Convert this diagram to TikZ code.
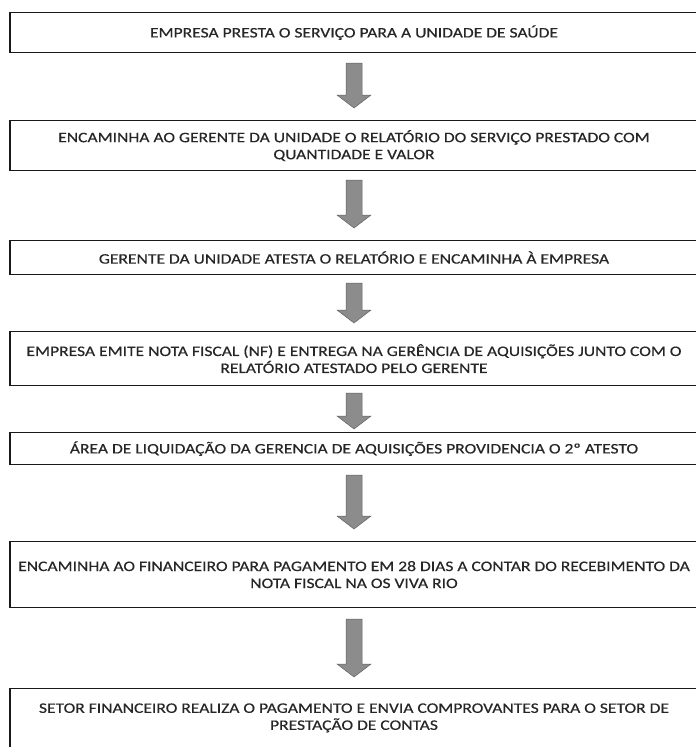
\documentclass[tikz,border=0pt]{standalone}
\usepackage{fontspec}
\setmainfont{Carlito}[FakeStretch=1.21,FakeBold=0.5]
\usetikzlibrary{calc}
\newcommand\boxfont{\fontsize{14.5pt}{17pt}\selectfont}
\newcommand\flowarrow[4]{%
  \fill[arrowstyle] let \p1=($(#1.south)+(0,#3)$), \p2=($(#2.north)+(0,-#4)$) in
    (\x1-8pt,\y1) -- (\x1+8pt,\y1) -- (\x1+8pt,\y2+13pt) -- (\x1+17pt,\y2+13pt)
    -- (\x1,\y2) -- (\x1-17pt,\y2+13pt) -- (\x1-8pt,\y2+13pt) -- cycle;}
\begin{document}
\begin{tikzpicture}[x=1pt,y=-1pt,
  stepbox/.style={draw=black!90, line width=1.2pt, minimum width=688pt,
    inner xsep=0pt, inner ysep=0pt, align=center, font=\boxfont,
    text=black!85, anchor=north},
  arrowstyle/.style={fill=black!45, draw=black!62, line width=0.5pt}]
\useasboundingbox (0,0) rectangle (696,747);
\node[stepbox, minimum height=40pt] (b1) at (354,12)
  {EMPRESA PRESTA O SERVIÇO PARA A UNIDADE DE SAÚDE};
\node[stepbox, minimum height=50pt] (b2) at (354,120)
  {ENCAMINHA AO GERENTE DA UNIDADE O RELATÓRIO DO SERVIÇO PRESTADO COM\\QUANTIDADE E VALOR};
\node[stepbox, minimum height=34pt] (b3) at (354,240)
  {GERENTE DA UNIDADE ATESTA O RELATÓRIO E ENCAMINHA À EMPRESA};
\node[stepbox, minimum height=54pt] (b4) at (354,331)
  {EMPRESA EMITE NOTA FISCAL (NF) E ENTREGA NA GERÊNCIA DE AQUISIÇÕES JUNTO COM O\\RELATÓRIO ATESTADO PELO GERENTE};
\node[stepbox, minimum height=32pt] (b5) at (354,432)
  {ÁREA DE LIQUIDAÇÃO DA GERENCIA DE AQUISIÇÕES PROVIDENCIA O 2º ATESTO};
\node[stepbox, minimum height=66pt] (b6) at (354,541)
  {ENCAMINHA AO FINANCEIRO PARA PAGAMENTO EM 28 DIAS A CONTAR DO RECEBIMENTO DA\\NOTA FISCAL NA OS VIVA RIO};
\node[stepbox, minimum height=58.5pt] (b7) at (354,688)
  {SETOR FINANCEIRO REALIZA O PAGAMENTO E ENVIA COMPROVANTES PARA O SETOR DE\\PRESTAÇÃO DE CONTAS};
\flowarrow{b1}{b2}{10}{12}
\flowarrow{b2}{b3}{9}{12}
\flowarrow{b3}{b4}{8}{8}
\flowarrow{b4}{b5}{7}{3}
\flowarrow{b5}{b6}{10}{12}
\flowarrow{b6}{b7}{11}{11}
\end{tikzpicture}
\end{document}
